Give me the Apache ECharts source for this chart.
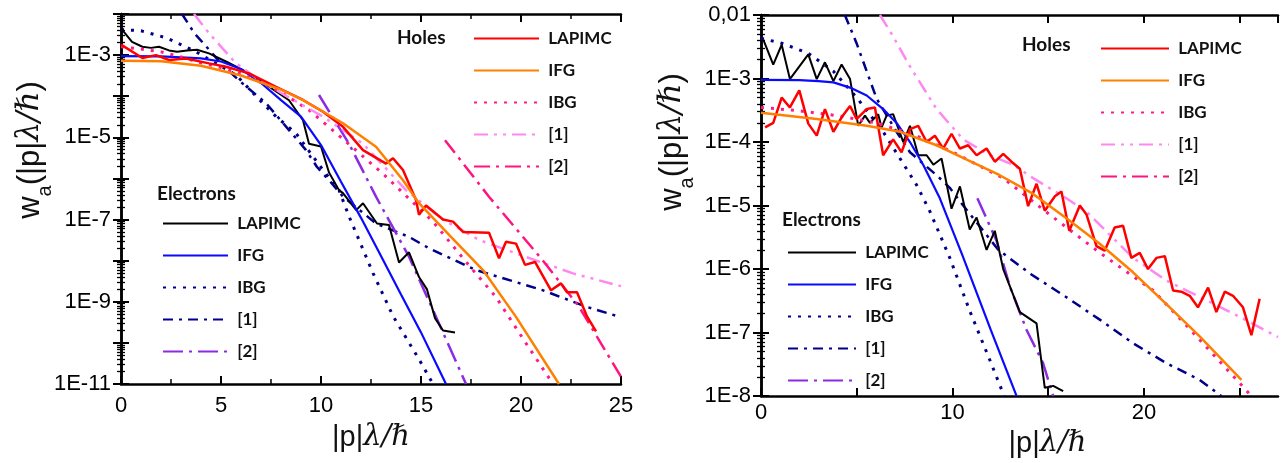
<!DOCTYPE html>
<html>
<head>
<meta charset="utf-8">
<script src="https://cdn.jsdelivr.net/npm/echarts@6/dist/echarts.min.js"></script>
<style>
  html, body { margin: 0; padding: 0; background: #fff; }
  #chart { width: 1287px; height: 463px; }
</style>
</head>
<body>
<div id="chart"></div>
<script>
// ---- data: [|p|λ/ħ, w_a] ----
// left panel
var lElecLap = [[0,4.5e-3],[0.55,2.1e-3],[1.07,1.6e-3],[1.5,1.5e-3],[1.9,1.6e-3],[2.4,1.3e-3],[2.8,1.2e-3],[3.3,1.3e-3],[3.8,1.35e-3],[4.4,1.1e-3],[5.3,6.8e-4],[6.4,3.6e-4],[7.4,1.7e-4],[8.4,8e-5],[9.1,2.6e-5],[9.4,7e-6],[10.0,6e-6],[10.4,1.4e-6],[10.9,5.2e-7],[11.1,4.4e-7],[11.76,1.7e-7],[12.1,2.5e-7],[12.8,8e-8],[13.4,7.4e-8],[13.9,9e-9],[14.4,1.6e-8],[14.9,4e-9],[15.3,2e-9],[15.7,4e-10],[16.1,2e-10],[16.7,1.8e-10]];
var lElecIfg = [[0,9.5e-4],[2,9.3e-4],[4,8.3e-4],[5,7e-4],[6,4.6e-4],[7,2.1e-4],[8,8e-5],[9,3.2e-5],[10,6.5e-6],[11,8.3e-7],[12,1.1e-7],[13,1.3e-8],[14,1.5e-9],[15,1.8e-10],[16.25,1e-11]];
var lElecIbg = [[0,4.2e-3],[1,3.9e-3],[2.3,2.6e-3],[3.75,1.2e-3],[4.75,6.3e-4],[5.75,3.3e-4],[6.75,1e-4],[7.75,3.2e-5],[8.75,1.25e-5],[10.1,1.6e-6],[10.9,5.2e-7],[11.4,1.2e-7],[12.6,5e-9],[13.6,4.5e-10],[14.9,4e-11],[15.6,1e-11]];
var lElecR1 = [[3.05,1e-2],[3.67,3.4e-3],[4.5,1.2e-3],[5.1,5.5e-4],[6,2.2e-4],[7.25,6.8e-5],[8.4,1.5e-5],[9.25,4.9e-6],[9.8,1.9e-6],[10.5,8e-7],[11.1,3.6e-7],[12,1.6e-7],[12.75,8e-8],[14.4,3.8e-8],[15.4,2e-8],[17.75,5.9e-9],[21.1,1.9e-9],[23.25,7.6e-10],[25,4.2e-10]];
var lElecR2 = [[9.9,1.07e-4],[11.4,7e-6],[12.75,3.6e-7],[14.4,1.25e-8],[15.75,4.3e-10],[17.25,1e-11]];
var lHoleLap = [[0,1.8e-3],[1.07,8.5e-4],[1.75,1e-3],[2.4,7.6e-4],[3.25,8.3e-4],[4.4,6.3e-4],[5.25,5.2e-4],[6.4,3.6e-4],[7.75,1.7e-4],[9.1,8.1e-5],[10.1,4.2e-5],[11.1,1.8e-5],[12.1,4.9e-6],[13.25,2.3e-6],[13.6,3.1e-6],[14.1,1.6e-6],[14.75,3e-7],[14.9,1.3e-7],[15.25,2.2e-7],[16.1,1e-7],[16.6,8.9e-8],[17.1,5e-8],[18.4,4.8e-8],[18.9,1.15e-8],[19.25,2.9e-8],[19.75,2.6e-8],[20.2,7.9e-9],[20.7,9.3e-9],[21.5,1.9e-9],[22,2.8e-9],[22.3,1.7e-9],[22.8,1.7e-9],[23.3,4.4e-10],[23.75,1.9e-10]];
var lHoleIfg = [[0,7.3e-4],[2,7.1e-4],[4,5.5e-4],[6,3.2e-4],[8,1.45e-4],[9.1,8e-5],[10,4.5e-5],[11.1,2.2e-5],[12.75,5.9e-6],[14.1,9e-7],[14.9,2.5e-7],[16.5,3.8e-8],[18.1,5.9e-9],[19.75,4.3e-10],[21.9,1e-11]];
var lHoleIbg = [[0,1.6e-3],[1,1.4e-3],[2,1.2e-3],[3,9e-4],[4,6.5e-4],[5,5e-4],[6,3.5e-4],[7,2.2e-4],[8,1.25e-4],[9.4,4.6e-5],[11,1e-5],[13.1,1.3e-6],[15.6,8.9e-8],[17.2,1e-8],[18.75,1.3e-9],[20.25,9.8e-11],[21.6,1e-11]];
var lHoleR1 = [[3.65,1e-2],[4.4,3.4e-3],[5.75,6.3e-4],[6.9,2.5e-4],[8,1.2e-4],[10.1,3.2e-5],[12.1,7e-6],[14.25,5.2e-7],[16.1,1e-7],[17.9,3.2e-8],[19.75,1.5e-8],[22.6,4.9e-9],[25,2.4e-9]];
var lHoleR2 = [[16.2,8.5e-6],[18.4,3.6e-7],[21.1,1e-8],[22.9,7.6e-10],[25,1.5e-11]];

// right panel
var rElecLap = [[0.12,4.1e-3],[0.64,1.66e-3],[1.08,3.4e-3],[1.51,9.8e-4],[2.47,2.4e-3],[2.91,9.8e-4],[3.34,1.8e-3],[3.78,9.1e-4],[4.21,1.66e-3],[4.65,9.8e-4],[5.08,1.8e-4],[5.43,2.6e-4],[5.69,2e-4],[6.12,2.75e-4],[6.3,1.7e-4],[6.56,2.6e-4],[6.9,2.75e-4],[7.43,1e-4],[7.78,1.8e-4],[8.21,6.2e-5],[8.65,6.2e-5],[9.0,4.4e-5],[9.43,5.5e-5],[9.95,8.9e-6],[10.39,2e-5],[10.9,4.2e-6],[11.26,6.5e-6],[11.78,2e-6],[12.21,4e-6],[12.65,1e-6],[13.52,2.1e-7],[14.39,1.4e-7],[14.82,1.35e-8],[15.26,1.45e-8],[15.78,1.2e-8]];
var rElecIfg = [[0,9.5e-4],[2,9.4e-4],[3,9.1e-4],[3.78,8.7e-4],[4.65,7.2e-4],[5.52,5.4e-4],[6.38,3.3e-4],[7.08,2e-4],[7.78,1e-4],[8.47,4.4e-5],[9.34,1.3e-5],[10.5,1.7e-6],[12,1.1e-7],[13.35,1e-8]];
var rElecIbg = [[0,4.3e-3],[1.08,3.6e-3],[2.47,2.5e-3],[3.78,1.3e-3],[5,5e-4],[6.38,1.45e-4],[7.26,5.5e-5],[8.13,2.1e-5],[8.82,8.1e-6],[9.86,1.5e-6],[10.9,2.2e-7],[11.95,3.7e-8],[12.7,1e-8]];
var rElecR1 = [[4.38,1e-2],[4.99,3.6e-3],[5.52,1.3e-3],[6.04,4.8e-4],[7.08,1.45e-4],[7.78,6.9e-5],[9.17,3e-5],[9.86,1.9e-5],[10.56,1e-5],[12.4,2e-6],[14.1,8.3e-7],[15.95,3.6e-7],[17.69,1.6e-7],[19.43,6.8e-8],[21.17,3.3e-8],[22.91,1.8e-8],[24.04,1e-8]];
var rElecR2 = [[11.3,1.3e-5],[12.3,2.8e-6],[13,5.3e-7],[13.87,1.1e-7],[14.73,3.3e-8],[15.26,1e-8]];
var rHoleLap = [[0.21,1.7e-4],[0.64,2e-4],[1.08,5e-4],[1.51,3.5e-4],[2.0,6.5e-4],[2.47,1.95e-4],[2.91,1.26e-4],[3.34,3.3e-4],[3.78,1.45e-4],[4.21,2.45e-4],[4.65,3.7e-4],[4.99,2.3e-4],[5.52,3.3e-4],[5.95,3.5e-4],[6.38,6.2e-5],[6.9,1.1e-4],[7.34,6.9e-5],[7.78,1.6e-4],[8.21,1.8e-4],[8.65,1e-4],[9.08,1.26e-4],[9.51,7.9e-5],[9.95,1.35e-4],[10.39,7.9e-5],[10.82,8.9e-5],[11.26,6.2e-5],[11.78,7.9e-5],[12.21,4.9e-5],[12.65,6.5e-5],[13.08,4.9e-5],[13.52,3.8e-5],[13.95,9.8e-6],[14.39,2.2e-5],[14.82,8.3e-6],[15.35,1.4e-5],[15.69,1.66e-5],[16.1,4e-6],[16.65,1e-5],[17.0,7.2e-6],[17.52,2.3e-6],[17.95,1.95e-6],[18.47,4.5e-6],[18.91,4.8e-6],[19.34,1.5e-6],[19.78,1.8e-6],[20.21,1e-6],[20.65,1.5e-6],[21.09,1.6e-6],[21.52,4.6e-7],[21.95,4.4e-7],[22.39,3.8e-7],[22.82,2.5e-7],[23.35,5.1e-7],[23.78,2.1e-7],[24.22,4.4e-7],[24.65,3.8e-7],[25.17,2.5e-7],[25.61,9.1e-8],[26.04,3.4e-7]];
var rHoleIfg = [[0,2.9e-4],[2.91,2.3e-4],[5.52,1.8e-4],[7.26,1.45e-4],[9.17,8.9e-5],[10.8,5.2e-5],[12.47,3e-5],[14.1,1.6e-5],[15.95,6.3e-6],[17.69,2.5e-6],[19.43,8.9e-7],[21.17,2.8e-7],[22.91,8.7e-8],[25.09,1.8e-8]];
var rHoleIbg = [[0,3.5e-4],[2,3.1e-4],[4,2.6e-4],[6,2e-4],[8,1.3e-4],[10,7e-5],[12.65,2.7e-5],[15,7.5e-6],[17.7,1.8e-6],[20.48,4.6e-7],[22.21,1.3e-7],[25,1.6e-8],[25.61,1e-8]];
var rHoleR1 = [[6.21,1e-2],[6.9,4.6e-3],[7.78,1.55e-3],[9.17,3.3e-4],[10.56,1.1e-4],[11.95,6.2e-5],[13.17,4.4e-5],[14.21,2.7e-5],[15.95,1.3e-5],[17,8e-6],[19.43,1.5e-6],[21.17,6.6e-7],[24.65,2e-7],[27,8.5e-8]];
var rHoleR2 = [];

var legendNames = ['LAPIMC', 'IFG', 'IBG', '[1]', '[2]'];
var leftXTicks = [0, 5, 10, 15, 20, 25];
var rightXLabels = [0, 10, 20];

// ---- styles ----
var styles = {
  'e:LAPIMC': { color: '#000000', width: 2, type: 'solid' },
  'e:IFG':    { color: '#0a0aff', width: 2.2, type: 'solid' },
  'e:IBG':    { color: '#00008b', width: 3, type: [3, 7] },
  'e:[1]':    { color: '#00008b', width: 2.5, type: [10, 6, 3, 6] },
  'e:[2]':    { color: '#8b2be2', width: 2.5, type: [20, 6, 3, 6] },
  'h:LAPIMC': { color: '#ff0000', width: 2.5, type: 'solid' },
  'h:IFG':    { color: '#ff8000', width: 2.5, type: 'solid' },
  'h:IBG':    { color: '#ff1a8c', width: 3, type: [3, 7] },
  'h:[1]':    { color: '#ff88f0', width: 2.5, type: [14, 6, 3, 6, 3, 6] },
  'h:[2]':    { color: '#ff1480', width: 2.5, type: [16, 6, 3, 6] }
};

function line(name, data, idx) {
  var s = styles[name];
  return {
    name: name, type: 'line', data: data,
    xAxisIndex: idx, yAxisIndex: idx,
    symbol: 'none', showSymbol: false, silent: true,
    itemStyle: { color: s.color },
    lineStyle: { color: s.color, width: s.width, type: s.type }
  };
}

var axisBlack = { lineStyle: { color: '#000', width: 2.5 } };
var font = 'Liberation Sans';

function xAxis(gi, pos, max, showLabel, labelMargin, nameGap, namePad) {
  return {
    type: 'value', gridIndex: gi, position: pos, min: 0, max: max, interval: 5,
    axisLine: axisBlack,
    axisTick: { inside: true, length: 8, lineStyle: { color: '#000', width: 2 } },
    minorTick: { show: gi === 0, splitNumber: 2, length: 5, lineStyle: { color: '#000', width: 1.5 } },
    splitLine: { show: false },
    axisLabel: {
      show: showLabel, fontSize: 22, color: '#000', fontFamily: font, margin: labelMargin,
      showMaxLabel: gi === 0,
      formatter: function (v) {
        var list = gi === 0 ? leftXTicks : rightXLabels;
        return list.indexOf(v) >= 0 ? String(v) : '';
      }
    },
    name: showLabel ? '{n||p|}{i|λ/ℏ}' : '',
    nameLocation: 'middle', nameGap: nameGap,
    nameTextStyle: {
      padding: namePad,
      rich: {
        n: { fontSize: 29, fontFamily: font, color: '#111' },
        i: { fontSize: 29, fontFamily: 'DejaVu Serif', fontStyle: 'italic', color: '#111' }
      }
    }
  };
}

function yAxis(gi, pos, min, splits, showLabel, fmt) {
  return {
    type: 'log', logBase: 10, gridIndex: gi, position: pos, min: min, max: 1e-2,
    splitNumber: splits,
    axisLine: axisBlack,
    axisTick: { inside: true, length: 8, lineStyle: { color: '#000', width: 2 } },
    minorTick: { show: true, splitNumber: 9, length: 4, lineStyle: { color: '#000', width: 1.3 } },
    splitLine: { show: false },
    axisLabel: { show: showLabel, fontSize: 22, color: '#000', fontFamily: font, margin: 10, formatter: fmt }
  };
}

function leftFmt(v) {
  var e = Math.round(Math.log10(v));
  return Math.abs(e) % 2 === 1 ? '1E' + e : '';
}
function rightFmt(v) {
  var e = Math.round(Math.log10(v));
  return e === -2 ? '0,01' : '1E' + e;
}

function legend(prefix, left, top, itemWidth, pad) {
  return {
    data: legendNames.map(function (n) { return prefix + n; }),
    orient: 'vertical', left: left, top: top,
    itemWidth: itemWidth, itemHeight: 16, itemGap: 15,
    selectedMode: false,
    itemStyle: { opacity: 0 },
    formatter: function (n) { return pad + n.slice(2); },
    textStyle: { fontFamily: 'Lato', fontWeight: 'bold', fontSize: 17, color: '#111', lineHeight: 16 }
  };
}

function heading(text, x, y) {
  return { type: 'text', x: x, y: y, silent: true,
    style: { text: text, font: 'bold 19px Lato', fill: '#111', verticalAlign: 'middle' } };
}

function yTitle(x, y) {
  return {
    type: 'text', x: x, y: y, rotation: Math.PI / 2, silent: true,
    style: {
      text: '{w|w}{s|a}{w|(|p|}{i|λ/ℏ}{w|)}',
      align: 'center', verticalAlign: 'middle',
      rich: {
        w: { fontSize: 31, fontFamily: font, fill: '#111', lineHeight: 34 },
        s: { fontSize: 20, fontFamily: font, fill: '#111', verticalAlign: 'bottom', lineHeight: 20, padding: [0, 0, -8, 0] },
        i: { fontSize: 31, fontFamily: 'DejaVu Serif', fontStyle: 'italic', fill: '#111', lineHeight: 34 }
      }
    }
  };
}

var chart = echarts.init(document.getElementById('chart'), null, { renderer: 'canvas' });
chart.setOption({
  animation: false,
  backgroundColor: '#fff',
  grid: [
    { left: 121, top: 14, width: 500, height: 370 },
    { left: 761, top: 15, width: 517, height: 385 }
  ],
  xAxis: [
    xAxis(0, 'bottom', 25, true, 11, 39, [0, 0, 0, 0]),
    xAxis(0, 'top', 25, false, 0, 0, 0),
    xAxis(1, 'bottom', 27, true, 6, 26, [0, 0, 0, 56]),
    xAxis(1, 'top', 27, false, 0, 0, 0)
  ],
  yAxis: [
    yAxis(0, 'left', 1e-11, 9, true, leftFmt),
    yAxis(0, 'right', 1e-11, 9, false, leftFmt),
    yAxis(1, 'left', 1e-8, 6, true, rightFmt),
    yAxis(1, 'right', 1e-8, 6, false, rightFmt)
  ],
  legend: [
    legend('e:', 157, 210, 65, ' '),
    legend('h:', 468, 25, 65, ' '),
    legend('e:', 782, 239, 68, ' '),
    legend('h:', 1095, 35, 68, ' ')
  ],
  graphic: [
    heading('Electrons', 157, 194),
    heading('Holes', 397, 38),
    heading('Electrons', 782, 220),
    heading('Holes', 1022, 45),
    yTitle(30, 150),
    yTitle(672, 142)
  ],
  series: [
    line('e:IBG', lElecIbg, 0),
    line('e:[1]', lElecR1, 0),
    line('e:[2]', lElecR2, 0),
    line('e:LAPIMC', lElecLap, 0),
    line('e:IFG', lElecIfg, 0),
    line('h:IBG', lHoleIbg, 0),
    line('h:[1]', lHoleR1, 0),
    line('h:[2]', lHoleR2, 0),
    line('h:LAPIMC', lHoleLap, 0),
    line('h:IFG', lHoleIfg, 0),
    line('e:IBG', rElecIbg, 2),
    line('e:[1]', rElecR1, 2),
    line('e:[2]', rElecR2, 2),
    line('e:LAPIMC', rElecLap, 2),
    line('e:IFG', rElecIfg, 2),
    line('h:IBG', rHoleIbg, 2),
    line('h:[1]', rHoleR1, 2),
    line('h:[2]', rHoleR2, 2),
    line('h:LAPIMC', rHoleLap, 2),
    line('h:IFG', rHoleIfg, 2)
  ]
});
</script>
</body>
</html>
